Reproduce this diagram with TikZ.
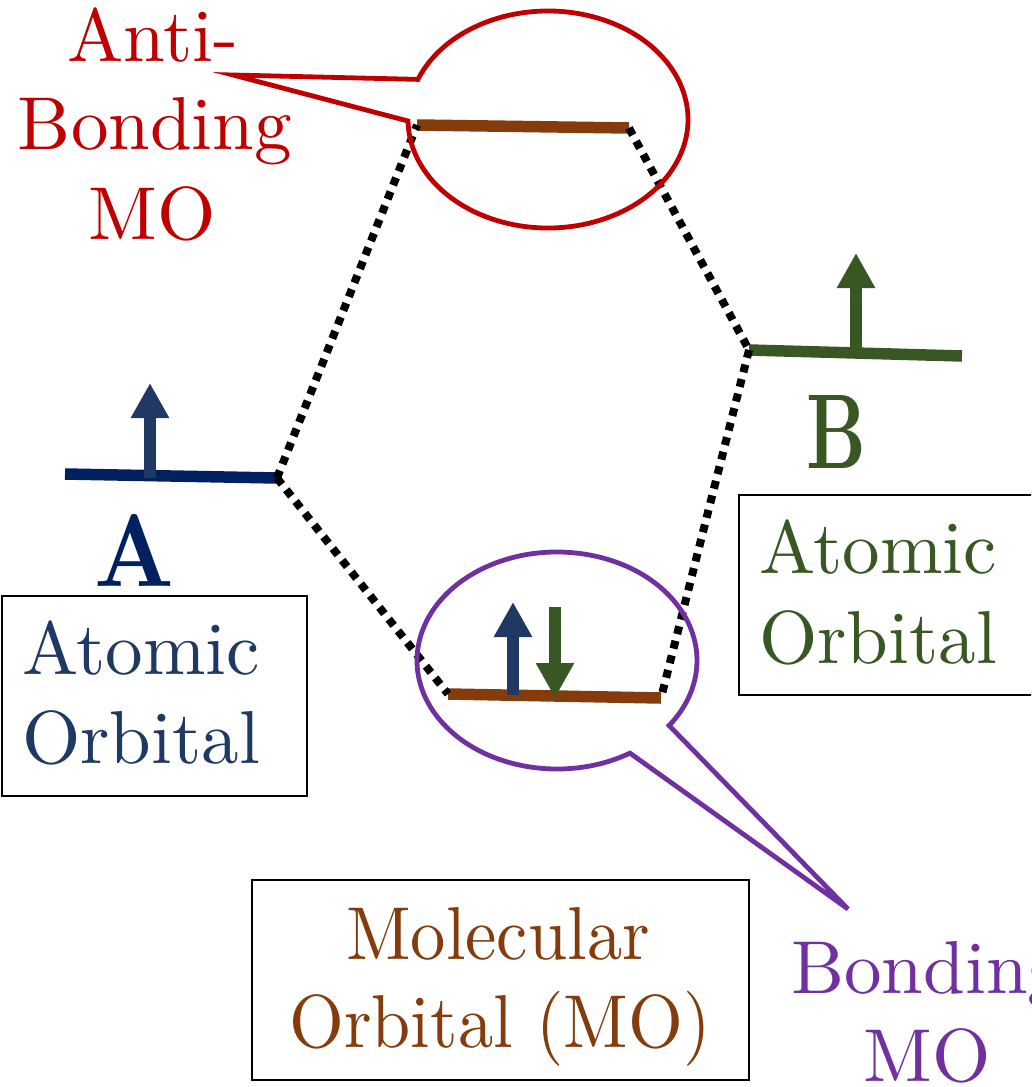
\documentclass[tikz,border=0pt]{standalone}
\usetikzlibrary{arrows.meta}
\definecolor{navy}{HTML}{002060}
\definecolor{dblue}{HTML}{1F3864}
\definecolor{ared}{HTML}{C00000}
\definecolor{brn}{HTML}{843C0C}
\definecolor{dgreen}{HTML}{385723}
\definecolor{purp}{HTML}{7030A0}
\newcommand{\bigtxt}[1]{\scalebox{7.5}{\fontsize{10}{12}\selectfont #1}}
\newcommand{\bigtxtc}[1]{\scalebox{7.05}[7.5]{\fontsize{10}{12}\selectfont #1}}
\begin{document}
\begin{tikzpicture}[x=1pt,y=-1pt,
  lbl/.style={inner sep=0pt, anchor=base},
  lblw/.style={inner sep=0pt, anchor=base west},
  level/.style={line width=11.5pt},
  spin/.style={line width=12pt, -{Triangle[width=36pt,length=35pt]}},
  conn/.style={line width=8pt, dash pattern=on 8pt off 7pt},
  callout/.style={line width=4.8pt},
  tbox/.style={draw=black, line width=1.6pt}
]
\path[use as bounding box] (0,0) rectangle (1031,1087);
\clip (0,0) rectangle (1031,1087);

% level end points
\coordinate (aL) at (65,474);   \coordinate (aR) at (277,478);
\coordinate (bL) at (749,350);  \coordinate (bR) at (962,356);
\coordinate (abL) at (417,125); \coordinate (abR) at (629,128);
\coordinate (bdL) at (448,694); \coordinate (bdR) at (661,698);

% energy levels
\draw[level, navy] (aL) -- (aR);
\draw[level, dgreen] (bL) -- (bR);
\draw[level, brn] (abL) -- (abR);
\draw[level, brn] (bdL) -- (bdR);

% spins
\draw[spin, dblue] (150,478) -- (150,383);
\draw[spin, dgreen] (856,350) -- (856,253);
\draw[spin, dblue] (513,695) -- (513,602);
\draw[spin, dgreen] (555,607) -- (555,698);

% correlation lines
\draw[conn] (aR) -- (abL);
\draw[conn] (aR) -- (bdL);
\draw[conn] (abR) -- (bL);
\draw[conn] (bL) -- (bdR);

% callouts
\draw[callout, ared] (548,119.5) ++(201.7:140 and 108.5) coordinate (rj1)
  arc[start angle=201.7, end angle=539.2, x radius=140, y radius=108.5] coordinate (rj2)
  -- (233,75) coordinate (rtip) -- cycle;
\draw[callout, purp] (557,660.5) ++(58.6:140 and 108.5) coordinate (pj1)
  arc[start angle=58.6, end angle=396.8, x radius=140, y radius=108.5] coordinate (pj2)
  -- (848,909) coordinate (ptip) -- cycle;

% boxes
\draw[tbox] (2,596) rectangle (307,796);
\draw[tbox] (739,495) rectangle (1045,695);
\draw[tbox] (252,880) rectangle (749,1080);

% letters
\node[inner sep=0pt, anchor=base, text=navy] (A) at (135,586) {\resizebox{80pt}{72pt}{\bfseries A}};
\node[inner sep=0pt, anchor=base, text=dgreen] (B) at (836.5,468) {\resizebox{60pt}{73pt}{\bfseries B}};

% texts
\node[lbl, text=ared] (anti1) at (153,61) {\bigtxt{Anti-}};
\node[lbl, text=ared] (anti2) at (155,149) {\bigtxt{Bonding}};
\node[lbl, text=ared] (anti3) at (152,239) {\bigtxt{MO}};

\node[lblw, text=dblue] (la1) at (22,674) {\bigtxt{Atomic}};
\node[lblw, text=dblue] (la2) at (22,763) {\bigtxt{Orbital}};

\node[lblw, text=dgreen] (rb1) at (759,573) {\bigtxt{Atomic}};
\node[lblw, text=dgreen] (rb2) at (759,663) {\bigtxt{Orbital}};

\node[lbl, text=brn] (mo1) at (498,959) {\bigtxtc{Molecular}};
\node[lbl, text=brn] (mo2) at (500,1047) {\bigtxtc{Orbital (MO)}};

\node[lblw, text=purp] (bo1) at (791,993) {\bigtxt{Bonding}};
\node[lbl, text=purp] (bo2) at (927,1081) {\bigtxt{MO}};
\end{tikzpicture}
\end{document}
